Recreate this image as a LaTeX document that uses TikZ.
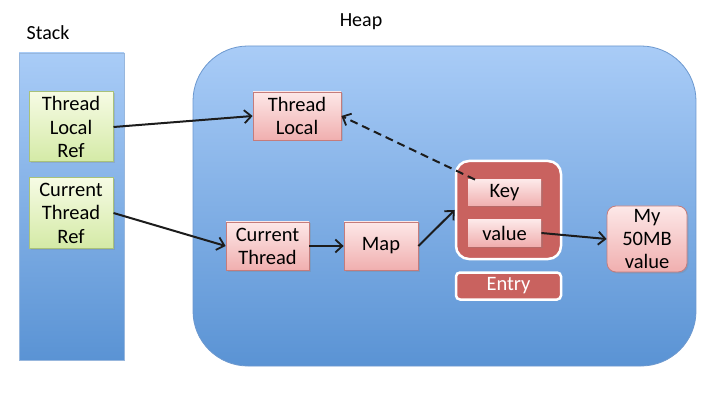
\documentclass[tikz,border=0pt]{standalone}
\usepackage{fontspec}
\setmainfont{Carlito}
\usetikzlibrary{arrows.meta,shadows,calc}
\definecolor{heaptop}{HTML}{A9CCF7}
\definecolor{heapbot}{HTML}{5A93D4}
\definecolor{heapline}{HTML}{6C98CF}
\definecolor{pinktop}{HTML}{FDE8E8}
\definecolor{pinkbot}{HTML}{F0AFAF}
\definecolor{pinkline}{HTML}{C47C7C}
\definecolor{greentop}{HTML}{F6FBE4}
\definecolor{greenbot}{HTML}{D4EAA6}
\definecolor{greenline}{HTML}{A9C27A}
\definecolor{entryred}{HTML}{C9625F}
\definecolor{arrowcol}{HTML}{1C1C1C}
\tikzset{
  lbl/.style={font=\fontsize{20}{20}\selectfont, text=black},
  greenbox/.style={draw=greenline, line width=1pt, top color=greentop, bottom color=greenbot,
    minimum width=84pt, minimum height=70pt, inner sep=0pt, align=center,
    font=\fontsize{20.5}{23.5}\selectfont,
    drop shadow={opacity=0.25, shadow xshift=1.5pt, shadow yshift=-1.5pt}},
  pinkbox/.style={draw=pinkline, line width=0.8pt, top color=pinktop, bottom color=pinkbot,
    inner sep=0pt, align=center, font=\fontsize{20.5}{23}\selectfont,
    drop shadow={opacity=0.25, shadow xshift=1.5pt, shadow yshift=-1.5pt}},
  redbox/.style={draw=white, line width=2.5pt, fill=entryred, inner sep=0pt},
  conn/.style={draw=arrowcol, line width=2pt, -{Straight Barb[length=7pt,width=13pt,line width=1.8pt]}},
}
\begin{document}
\begin{tikzpicture}[x=1pt,y=-1pt]
\useasboundingbox[fill=white] (0,0) rectangle (714,403);
% labels
\node[lbl] (stacklbl) at (48,33) {Stack};
\node[lbl] (heaplbl) at (361,22) {Heap};
% stack column
\node[draw=heapline!70, line width=0.8pt, top color=heaptop, bottom color=heapbot, minimum width=105pt, minimum height=307pt, inner sep=0pt] (stack) at (71.5,206.5) {};
% heap
\node[draw=heapline, line width=0.8pt, top color=heaptop, bottom color=heapbot, rounded corners=55pt, minimum width=503pt, minimum height=320pt, inner sep=0pt] (heap) at (444.5,206) {};
% stack items
\node[greenbox] (tlref) at (71,127) {Thread\\Local\\Ref};
\node[greenbox] (ctref) at (71,213) {Current\\Thread\\Ref};
% heap items
\node[pinkbox, minimum width=88pt, minimum height=48pt] (tl) at (297,116) {Thread\\Local};
\node[pinkbox, minimum width=83pt, minimum height=48pt] (ct) at (267.5,246) {Current\\Thread};
\node[pinkbox, minimum width=74pt, minimum height=48pt] (map) at (381,246) {Map};
\node[redbox, rounded corners=13pt, minimum width=105pt, minimum height=98pt] (entry) at (508.5,210) {};
\node[pinkbox, draw=none, minimum width=73pt, minimum height=26pt, font=\fontsize{20.5}{20.5}\selectfont] (key) at (504.5,193) {Key};
\node[pinkbox, draw=none, minimum width=73pt, minimum height=26pt, font=\fontsize{20.5}{20.5}\selectfont] (val) at (504.5,233) {value};
\node[redbox, rounded corners=4pt, minimum width=105pt, minimum height=27pt, text=white, font=\fontsize{20.5}{20.5}\selectfont] (entrylbl) at (508.5,286) {Entry};
\node[pinkbox, rounded corners=9pt, minimum width=80pt, minimum height=66pt, font=\fontsize{20.5}{23}\selectfont] (big) at (647,239) {My\\50MB\\value};
% connectors
\coordinate (keytop) at ($(key.north west)!0.1!(key.north east)$);
\draw[conn] (tlref.east) -- (tl.west);
\draw[conn] (ctref.east) -- (ct.west);
\draw[conn] (ct.east) -- (map.west);
\draw[conn] (map.east) -- (entry.west);
\draw[conn] (val.east) -- (big.west);
\draw[conn, dashed, dash pattern=on 8pt off 5pt] (keytop) -- (tl.east);
\end{tikzpicture}
\end{document}
